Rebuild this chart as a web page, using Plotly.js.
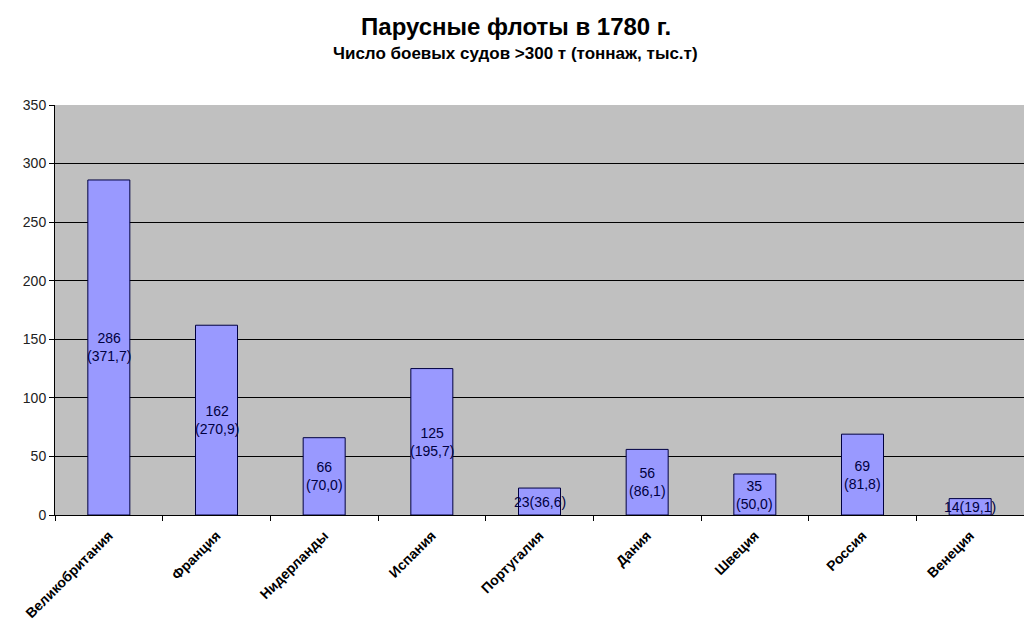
<!DOCTYPE html>
<html><head><meta charset="utf-8">
<script src="https://cdn.plot.ly/plotly-3.0.1.min.js"></script>
<style>html,body{margin:0;padding:0;background:#fff}#chart{width:1024px;height:636px}</style>
</head><body><div id="chart"></div>
<script>
var countries = ["Великобритания","Франция","Нидерланды","Испания","Португалия","Дания","Швеция","Россия","Венеция"];
var ships = [286,162,66,125,23,56,35,69,14];
var tonnage = ["371,7","270,9","70,0","195,7","36,6","86,1","50,0","81,8","19,1"];

var annotations = countries.map(function(c,i){
  var t = ships[i] < 30 ? (ships[i] + "(" + tonnage[i] + ")") : (ships[i] + "<br>(" + tonnage[i] + ")");
  return {x:c, y:ships[i]/2, xref:'x', yref:'y', text:t, showarrow:false,
    font:{family:'Arial, Liberation Sans, sans-serif', size:14, color:'#000040'}};
});
annotations.push({xref:'paper', yref:'paper', x:0.475, y:1, xanchor:'center', yanchor:'middle',
  yshift:52, text:'<b>Число боевых судов >300 т (тоннаж, тыс.т)</b>', showarrow:false,
  font:{family:'Arial, Liberation Sans, sans-serif', size:17, color:'#000'}});

var trace = {type:'bar', x:countries, y:ships, width:0.39,
  marker:{color:'#9999ff', line:{color:'#000040', width:1}}, hoverinfo:'none'};

var layout = {
  width:1024, height:636,
  margin:{l:55, r:0, t:105, b:121},
  paper_bgcolor:'#fff', plot_bgcolor:'#c0c0c0',
  title:{text:'<b>Парусные флоты в 1780 г.</b>', x:0.504, xanchor:'center', y:0.958, yanchor:'middle',
    font:{family:'Arial, Liberation Sans, sans-serif', size:24, color:'#000'}},
  showlegend:false,
  bargap:0.61,
  xaxis:{type:'category', tickangle:-45, ticks:'outside', ticklen:5, tickcolor:'#000',
    tickson:'boundaries', showline:true, linecolor:'#000', linewidth:1, showgrid:false,
    ticklabelstandoff:6,
    tickfont:{family:'Arial, Liberation Sans, sans-serif', size:14, color:'#000', weight:'bold'}, fixedrange:true},
  yaxis:{range:[0,350], dtick:50, ticks:'outside', ticklen:5, tickcolor:'#000',
    showline:true, linecolor:'#000', linewidth:1, gridcolor:'#000', gridwidth:1, zeroline:false,
    tickfont:{family:'Arial, Liberation Sans, sans-serif', size:14, color:'#222'}, fixedrange:true},
  annotations:annotations
};
Plotly.newPlot('chart',[trace],layout,{displayModeBar:false,staticPlot:true});
</script></body></html>
